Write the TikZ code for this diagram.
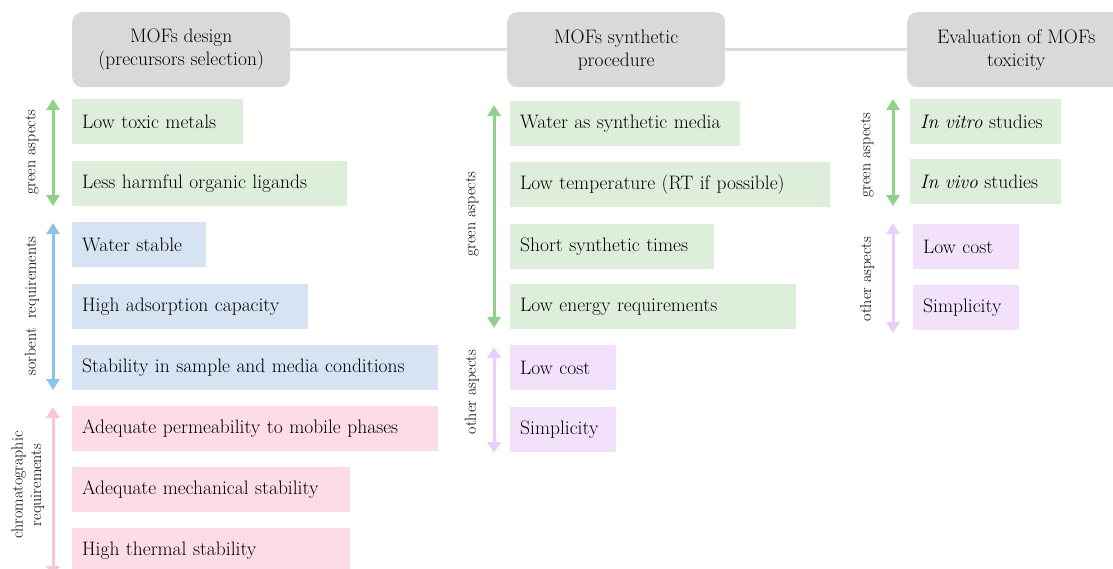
\documentclass[tikz,border=0pt]{standalone}
\usepackage{tikz}
\usetikzlibrary{arrows.meta}

\definecolor{headgray}{HTML}{D9D9D9}
\definecolor{linegray}{HTML}{DCDCDC}
\definecolor{greenbox}{HTML}{DDEFDA}
\definecolor{greenarr}{HTML}{8FD18A}
\definecolor{bluebox}{HTML}{D6E3F2}
\definecolor{bluearr}{HTML}{8EC3E8}
\definecolor{pinkbox}{HTML}{FDDCE6}
\definecolor{pinkarr}{HTML}{F8C6D6}
\definecolor{lilabox}{HTML}{F3E1FC}
\definecolor{lilaarr}{HTML}{EBCDF9}

\begin{document}
\begin{tikzpicture}[x=1pt, y=-1pt]

\tikzstyle{head} = [rectangle, rounded corners=10pt, fill=headgray, anchor=north west, minimum width=218pt, minimum height=75pt, align=center, font=\fontsize{19.5}{23}\selectfont]
\tikzstyle{item} = [rectangle, anchor=north west, minimum height=45pt, inner xsep=10pt, inner ysep=0pt, align=left, font=\fontsize{19.5}{23}\selectfont]
\tikzstyle{side} = [rotate=90, align=center, font=\fontsize{16}{18.5}\selectfont]
\tikzstyle{aspectarrow} = [{Triangle[width=13pt,length=11pt]}-{Triangle[width=13pt,length=11pt]}, line width=3pt]

\clip (0,0) rectangle (1113,568);

% headers
\node[head] (design) at (72,12) {MOFs design\\(precursors selection)};
\node[head] (synth) at (507,12) {MOFs synthetic\\procedure};
\node[head] (tox) at (907,12) {Evaluation of MOFs\\toxicity};

\draw[-, linegray, line width=3pt] (design) -- (synth);
\draw[-, linegray, line width=3pt] (synth) -- (tox);

% design column
\node[item, fill=greenbox, text width=151pt] (lowtox) at (72,99) {Low toxic metals};
\node[item, fill=greenbox, text width=255pt] (ligands) at (72,161) {Less harmful organic ligands};
\node[item, fill=bluebox, text width=114pt] (water) at (72,222) {Water stable};
\node[item, fill=bluebox, text width=216pt] (adsorp) at (72,284) {High adsorption capacity};
\node[item, fill=bluebox, text width=346pt] (stab) at (72,345) {Stability in sample and media conditions};
\node[item, fill=pinkbox, text width=346pt] (perm) at (72,406) {Adequate permeability to mobile phases};
\node[item, fill=pinkbox, text width=258pt] (mech) at (72,467) {Adequate mechanical stability};
\node[item, fill=pinkbox, text width=258pt] (therm) at (72,528) {High thermal stability};

\coordinate (dg1) at (53,99);
\coordinate (dg2) at (53,206);
\coordinate (ds1) at (53,223);
\coordinate (ds2) at (53,390);
\coordinate (dc1) at (53,407);
\coordinate (dc2) at (53,577);
\draw[aspectarrow, greenarr] (dg1) -- (dg2);
\draw[aspectarrow, bluearr] (ds1) -- (ds2);
\draw[aspectarrow, pinkarr] (dc1) -- (dc2);

\node[side] (dgl) at (32,152) {green aspects};
\node[side] (dsl) at (32,306) {sorbent\ \ requirements};
\node[side] (dcl) at (28,485) {chromatographic\\requirements};

% synthesis column
\node[item, fill=greenbox, text width=210pt] (wmedia) at (510,101) {Water as synthetic media};
\node[item, fill=greenbox, text width=300pt] (lowtemp) at (510,162) {Low temperature (RT if possible)};
\node[item, fill=greenbox, text width=184pt] (short) at (510,224) {Short synthetic times};
\node[item, fill=greenbox, text width=266pt] (energy) at (510,284) {Low energy requirements};
\node[item, fill=lilabox, text width=86pt] (scost) at (510,345) {Low cost};
\node[item, fill=lilabox, text width=86pt] (ssimp) at (510,407) {Simplicity};

\coordinate (sg1) at (494,105);
\coordinate (sg2) at (494,328);
\coordinate (so1) at (494,347);
\coordinate (so2) at (494,453);
\draw[aspectarrow, greenarr] (sg1) -- (sg2);
\draw[aspectarrow, lilaarr] (so1) -- (so2);

\node[side] (sgl) at (472,214) {green aspects};
\node[side] (sol) at (472,392) {other aspects};

% toxicity column
\node[item, fill=greenbox, text width=131pt] (vitro) at (910,99) {\textit{In vitro} studies};
\node[item, fill=greenbox, text width=131pt] (vivo) at (910,159) {\textit{In vivo} studies};
\node[item, fill=lilabox, text width=86pt] (tcost) at (913,224) {Low cost};
\node[item, fill=lilabox, text width=86pt] (tsimp) at (913,285) {Simplicity};

\coordinate (tg1) at (893,99);
\coordinate (tg2) at (893,206);
\coordinate (to1) at (893,223);
\coordinate (to2) at (893,333);
\draw[aspectarrow, greenarr] (tg1) -- (tg2);
\draw[aspectarrow, lilaarr] (to1) -- (to2);

\node[side] (tgl) at (867,155) {green aspects};
\node[side] (tol) at (867,279) {other aspects};

\end{tikzpicture}
\end{document}
